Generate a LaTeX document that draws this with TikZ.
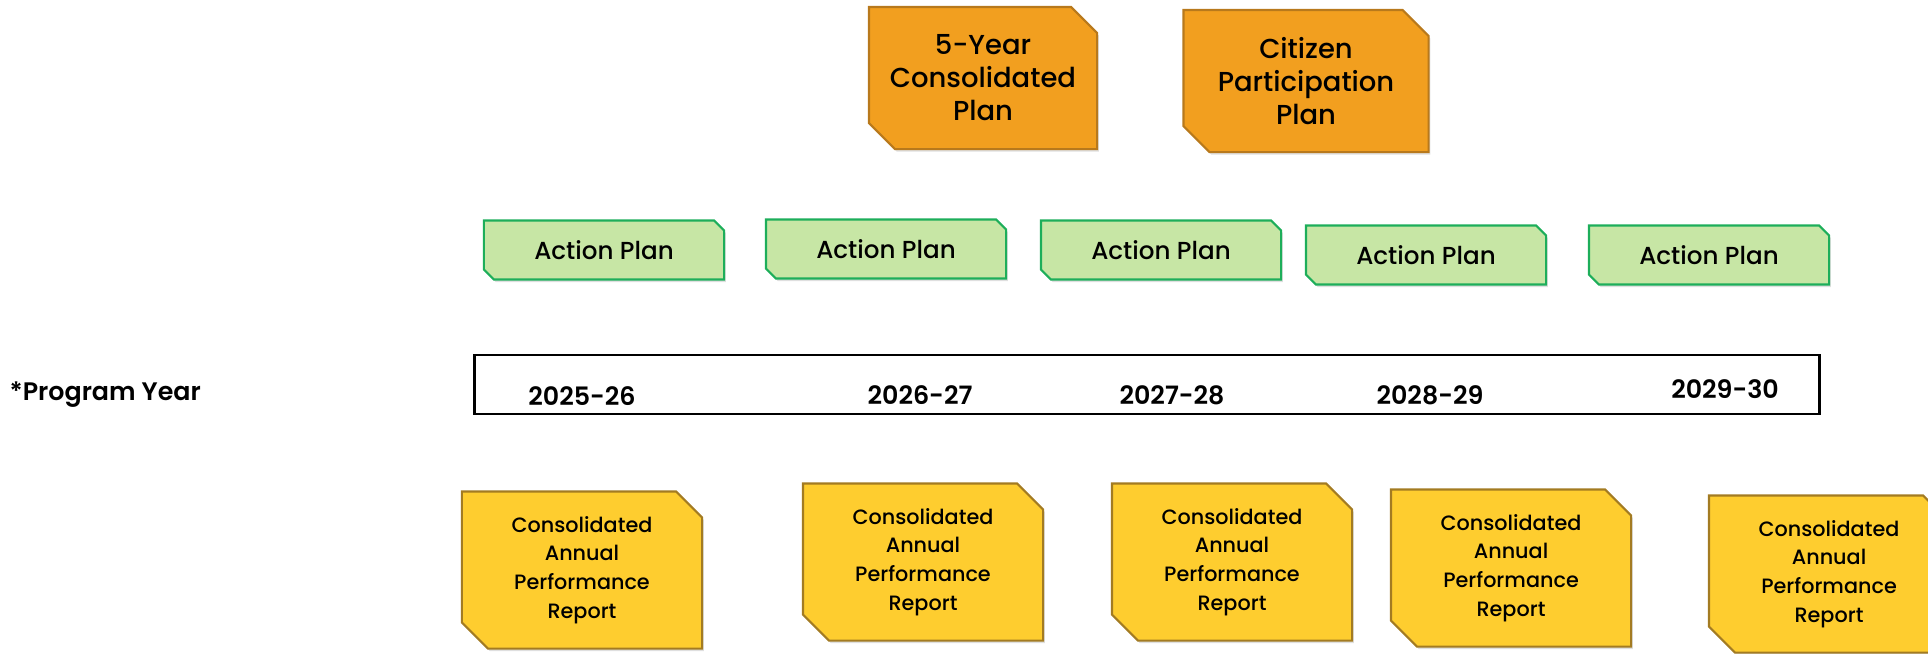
\documentclass[tikz,border=0pt]{standalone}
\usepackage{fontspec}
\setmainfont{Poppins}[UprightFont = * Medium, BoldFont = * SemiBold]
\usetikzlibrary{shapes.misc, shadows}

\definecolor{planorange}{HTML}{F29F1F}
\definecolor{planedge}{HTML}{B8791C}
\definecolor{actiongreen}{HTML}{C7E6A5}
\definecolor{actionedge}{HTML}{1DAE5A}
\definecolor{reportyellow}{HTML}{FECD2F}
\definecolor{reportedge}{HTML}{A37B22}

\begin{document}
\begin{tikzpicture}[x = 0.01cm, y = -0.01cm,
	snip/.style = {chamfered rectangle, chamfered rectangle corners = {north east, south west},
		align = center, inner sep = 0pt, line width = 0.6pt,
		drop shadow = {opacity = 0.25, shadow xshift = 0.5pt, shadow yshift = -0.7pt}},
	bigplan/.style = {snip, fill = planorange, draw = planedge, minimum width = 2.28cm,
		minimum height = 1.42cm, chamfered rectangle xsep = 0.13cm, chamfered rectangle ysep = 0.13cm,
		font = \fontsize{7.8}{9.4}\selectfont},
	actionbox/.style = {snip, fill = actiongreen, draw = actionedge, minimum width = 2.4cm,
		minimum height = 0.59cm, chamfered rectangle xsep = 0.05cm, chamfered rectangle ysep = 0.05cm,
		font = \fontsize{7}{8}\selectfont},
	reportbox/.style = {snip, fill = reportyellow, draw = reportedge, minimum width = 2.4cm,
		minimum height = 1.57cm, chamfered rectangle xsep = 0.13cm, chamfered rectangle ysep = 0.13cm,
		font = \fontsize{5.9}{8.2}\selectfont},
	yearlabel/.style = {font = \fontsize{7.2}{8}\selectfont\bfseries}]

	% Frame of the picture

	\useasboundingbox (0, 0) rectangle (1928, 653);
	\clip (0, 0) rectangle (1928, 653);

	% Plans at the top

	\node [bigplan] (conplan) at (983, 78) {5-Year\\Consolidated\\Plan};
	\node [bigplan, minimum width = 2.45cm] (citplan) at (1306, 81) {Citizen\\Participation\\Plan};

	% Action plans

	\foreach \x/\y [count = \i] in {604/250, 886/249, 1161/250, 1426/255, 1709/255}
		\node [actionbox] (action\i) at (\x, \y) {Action Plan};

	% Program year bar

	\node [yearlabel, anchor = west, inner sep = 0pt] (pylabel) at (9, 395) {*Program Year};
	\node [draw, line width = 0.8pt, minimum width = 13.44cm, minimum height = 0.59cm,
		inner sep = 0pt] (yearbar) at (1147, 384.5) {};

	\node [yearlabel] (year1) at (582, 396) {2025-26};
	\node [yearlabel] (year2) at (920, 395) {2026-27};
	\node [yearlabel] (year3) at (1172, 395) {2027-28};
	\node [yearlabel] (year4) at (1430, 395) {2028-29};
	\node [yearlabel] (year5) at (1725, 389) {2029-30};

	% Annual reports

	\foreach \x/\y [count = \i] in {582/570, 923/562, 1232/562, 1511/568, 1829/574}
		\node [reportbox] (report\i) at (\x, \y) {Consolidated\\Annual\\Performance\\Report};

\end{tikzpicture}
\end{document}
